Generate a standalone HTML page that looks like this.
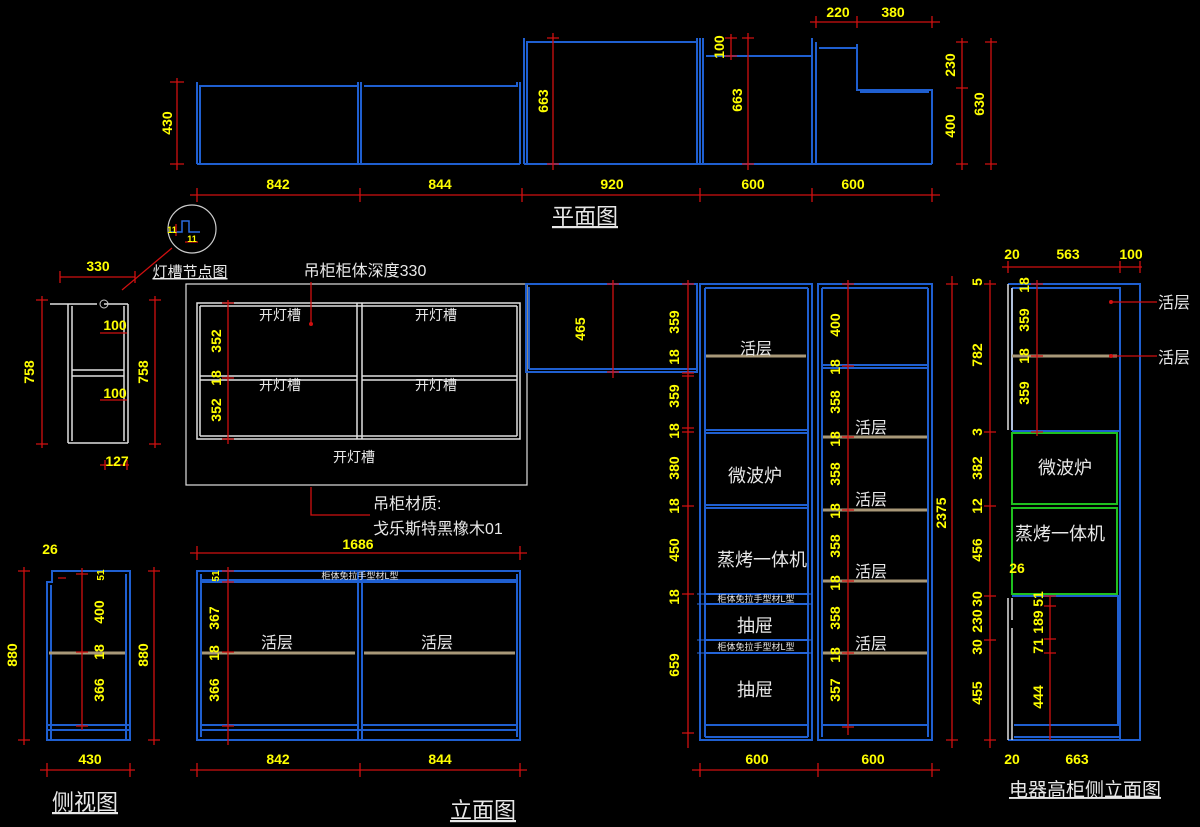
<!DOCTYPE html>
<html><head><meta charset="utf-8"><style>
html,body{margin:0;padding:0;background:#000;width:1200px;height:827px;overflow:hidden}
svg{display:block}
.b{stroke:#1f5fd0;stroke-width:2;fill:none}
.bt{stroke:#2a6ae0;stroke-width:1;fill:none}
.w{stroke:#e0e0e0;stroke-width:1.5;fill:none}
.g{stroke:#1fc01f;stroke-width:2;fill:none}
.r{stroke:#d01010;stroke-width:1.3;fill:none}
.s{stroke:#a89878;stroke-width:3;fill:none}
.d{fill:#ffff00;font-family:"Liberation Sans Narrow","Liberation Sans",sans-serif;font-weight:bold;font-size:14px;text-anchor:middle}
.t{fill:#e8e8e8;font-family:"Liberation Sans","Noto Sans CJK SC",sans-serif;font-size:16px;text-anchor:middle}
.tt{fill:#e8e8e8;font-family:"Liberation Sans","Noto Sans CJK SC",sans-serif;font-size:22px;text-anchor:middle;text-decoration:underline}
.sm{fill:#e8e8e8;font-family:"Liberation Sans","Noto Sans CJK SC",sans-serif;font-size:9px;text-anchor:middle}
</style></head><body>
<svg width="1200" height="827" viewBox="0 0 1200 827" xmlns="http://www.w3.org/2000/svg">
<!-- ===== PLAN VIEW ===== -->
<g class="b">
<path d="M197 164V82M200 164V86H358V82M361 164V82M358 164V82M364 86H517V82M520 164V82"/>
<path d="M197 164H520"/>
<path d="M524 164V38M527 164V42H697M697 38V164M700 164V38"/>
<path d="M524 164H700"/>
<path d="M703 164V38M706 56H812M812 38V164M816 164V42M819 48H857M857 44V90H932V164M860 92H929"/>
<path d="M700 164H932"/>
</g>
<g class="r">
<path d="M190 195H940M197 188V202M360 188V202M522 188V202M700 188V202M812 188V202M932 188V202"/>
<path d="M177 78V170M170 82H184M170 164H184"/>
<path d="M553 33V170M547 38H559M547 164H559"/>
<path d="M731 34V60M725 38H737M725 56H737"/>
<path d="M748 33V170M742 38H754M742 164H754"/>
<path d="M810 22H940M816 16V28M857 16V28M932 16V28"/>
<path d="M962 38V170M956 42H968M956 88H968M956 164H968"/>
<path d="M991 38V170M985 42H997M985 164H997"/>
</g>
<text class="d" x="278" y="189">842</text><text class="d" x="440" y="189">844</text>
<text class="d" x="612" y="189">920</text><text class="d" x="753" y="189">600</text><text class="d" x="853" y="189">600</text>
<text class="d" x="838" y="17">220</text><text class="d" x="893" y="17">380</text>
<text class="d" transform="rotate(-90 172 123)" x="172" y="123">430</text>
<text class="d" transform="rotate(-90 548 101)" x="548" y="101">663</text>
<text class="d" transform="rotate(-90 724 47)" x="724" y="47">100</text>
<text class="d" transform="rotate(-90 742 100)" x="742" y="100">663</text>
<text class="d" transform="rotate(-90 955 65)" x="955" y="65">230</text>
<text class="d" transform="rotate(-90 955 126)" x="955" y="126">400</text>
<text class="d" transform="rotate(-90 984 104)" x="984" y="104">630</text>
<text class="tt" x="585" y="224">平面图</text>
<!-- detail circle -->
<circle cx="192" cy="229" r="24" stroke="#ccc" stroke-width="1.2" fill="none"/>
<path d="M170 232H182V221H189V232H200" stroke="#2a6ae0" stroke-width="1.5" fill="none"/>
<path class="r" d="M176 224V236M185 242H198M122 290L172 248"/>
<text class="d" style="font-size:9px" x="172" y="233">11</text><text class="d" style="font-size:9px" x="192" y="242">11</text>
<text class="t" x="190" y="277" style="font-size:15px;text-decoration:underline">灯槽节点图</text>
<!-- ===== SIDE VIEW (wall) ===== -->
<g class="w">
<path d="M50 304H97M104 304H128M68 304V443M72 306V441M124 306V441M128 304V443M68 443H128M72 370H124M72 376H124"/>
</g>
<circle cx="104" cy="304" r="4" stroke="#ccc" fill="none"/>
<g class="r">
<path d="M60 277H135M60 271V283M135 271V283"/>
<path d="M42 296V448M36 300H48M36 444H48"/>
<path d="M155 296V448M149 300H161M149 444H161"/>
<path d="M100 333H127M100 400H127M100 465H129M105 460V470M127 460V470"/>
</g>
<text class="d" x="98" y="271">330</text>
<text class="d" x="115" y="330">100</text><text class="d" x="115" y="398">100</text><text class="d" x="117" y="466">127</text>
<text class="d" transform="rotate(-90 34 372)" x="34" y="372">758</text>
<text class="d" transform="rotate(-90 148 372)" x="148" y="372">758</text>
<!-- ===== WALL CABINET ELEVATION ===== -->
<rect x="186" y="284" width="341" height="201" stroke="#e0e0e0" stroke-width="1.2" fill="none"/>
<g class="w">
<path d="M197 303H520V439H197Z M200 306V436M517 306V436M200 306H517M200 436H517 M357 303V439M362 303V439M200 376H357M200 380H357M362 376H517M362 380H517"/>
</g>
<path class="r" d="M228 300V444M222 303H234M222 378H234M222 439H234M311 282V325M311 487V515H370"/>
<circle cx="311" cy="324" r="2" fill="#d01010"/>
<text class="d" transform="rotate(-90 221 341)" x="221" y="341">352</text>
<text class="d" transform="rotate(-90 221 378)" x="221" y="378">18</text>
<text class="d" transform="rotate(-90 221 410)" x="221" y="410">352</text>
<text class="t" style="font-size:14px" x="280" y="320">开灯槽</text><text class="t" style="font-size:14px" x="436" y="320">开灯槽</text>
<text class="t" style="font-size:14px" x="280" y="390">开灯槽</text><text class="t" style="font-size:14px" x="436" y="390">开灯槽</text>
<text class="t" style="font-size:14px" x="354" y="462">开灯槽</text>
<text class="t" x="365" y="276">吊柜柜体深度330</text>
<text class="t" style="text-anchor:start" x="373" y="509">吊柜材质:</text>
<text class="t" style="text-anchor:start" x="373" y="534">戈乐斯特黑橡木01</text>
<!-- wall box right -->
<g class="b"><path d="M526 284H697V372H526Z M529 287V369M529 369H697"/></g>
<path class="r" d="M613 280V378M607 284H619M607 372H619"/>
<text class="d" transform="rotate(-90 585 329)" x="585" y="329">465</text>
<!-- ===== TALL CABINETS ===== -->
<g class="b">
<path d="M700 284H812V740H700Z M705 288V737M808 288V737M705 288H808"/>
<path d="M705 430H808M705 433H808M705 505H808M705 508H808M705 594H808M705 604H808M705 640H808M705 653H808M705 725H808M705 737H808"/>
<path d="M818 284H932V740H818Z M822 288V737M928 288V737M822 288H928"/>
<path d="M822 365H928M822 368H928M822 725H928"/>
</g>
<path class="bt" d="M697 594H812M697 604H812M697 640H812M697 653H812"/>
<g class="s"><path d="M706 356H806M823 437H927M823 510H927M823 581H927M823 653H927"/></g>
<g class="r">
<path d="M688 280V748M682 284H694M682 373H694M682 376H694M682 428H694M682 432H694M682 506H694M682 594H694M682 733H694"/>
<path d="M848 280V735M842 284H854M842 366H854M842 437H854M842 510H854M842 581H854M842 653H854M842 727H854"/>
<path d="M692 770H940M700 763V777M818 763V777M932 763V777"/>
<path d="M952 276V748M946 284H958M946 740H958"/>
</g>
<text class="d" transform="rotate(-90 679 322)" x="679" y="322">359</text>
<text class="d" transform="rotate(-90 679 357)" x="679" y="357">18</text>
<text class="d" transform="rotate(-90 679 396)" x="679" y="396">359</text>
<text class="d" transform="rotate(-90 679 431)" x="679" y="431">18</text>
<text class="d" transform="rotate(-90 679 468)" x="679" y="468">380</text>
<text class="d" transform="rotate(-90 679 506)" x="679" y="506">18</text>
<text class="d" transform="rotate(-90 679 550)" x="679" y="550">450</text>
<text class="d" transform="rotate(-90 679 597)" x="679" y="597">18</text>
<text class="d" transform="rotate(-90 679 665)" x="679" y="665">659</text>
<text class="d" transform="rotate(-90 840 325)" x="840" y="325">400</text>
<text class="d" transform="rotate(-90 840 367)" x="840" y="367">18</text>
<text class="d" transform="rotate(-90 840 402)" x="840" y="402">358</text>
<text class="d" transform="rotate(-90 840 439)" x="840" y="439">18</text>
<text class="d" transform="rotate(-90 840 474)" x="840" y="474">358</text>
<text class="d" transform="rotate(-90 840 511)" x="840" y="511">18</text>
<text class="d" transform="rotate(-90 840 546)" x="840" y="546">358</text>
<text class="d" transform="rotate(-90 840 583)" x="840" y="583">18</text>
<text class="d" transform="rotate(-90 840 618)" x="840" y="618">358</text>
<text class="d" transform="rotate(-90 840 655)" x="840" y="655">18</text>
<text class="d" transform="rotate(-90 840 690)" x="840" y="690">357</text>
<text class="d" transform="rotate(-90 946 513)" x="946" y="513">2375</text>
<text class="d" x="757" y="764">600</text><text class="d" x="873" y="764">600</text>
<text class="t" x="756" y="354">活层</text>
<text class="t" style="font-size:18px" x="755" y="482">微波炉</text>
<text class="t" style="font-size:18px" x="762" y="566">蒸烤一体机</text>
<text class="sm" x="756" y="602">柜体免拉手型材L型</text>
<text class="t" style="font-size:18px" x="755" y="632">抽屉</text>
<text class="sm" x="756" y="650">柜体免拉手型材L型</text>
<text class="t" style="font-size:18px" x="755" y="696">抽屉</text>
<text class="t" x="871" y="433">活层</text><text class="t" x="871" y="505">活层</text>
<text class="t" x="871" y="577">活层</text><text class="t" x="871" y="649">活层</text>
<!-- ===== APPLIANCE TALL SIDE ===== -->
<g class="b">
<path d="M1008 284H1140V740H1008 M1012 288H1120V431H1012 M1012 431V288 M1120 288V740"/>
<path d="M1012 596H1120M1014 725H1120M1014 737H1120M1118 596V725"/>
</g>
<path class="w" d="M1008 284V430M1012 288V430M1008 598V740M1012 598V620M1012 628V740"/>
<path class="s" d="M1012 356H1117"/>
<rect x="1012" y="433" width="105" height="71" class="g"/>
<rect x="1012" y="508" width="105" height="86" class="g"/>
<g class="r">
<path d="M1002 267H1142M1008 261V273M1120 261V273M1140 261V273"/>
<path d="M990 280V748M984 284H996M984 432H996M984 506H996M984 596H996M984 640H996M984 740H996"/>
<path d="M1037 280V436M1031 284H1043M1031 356H1043M1031 432H1043"/>
<path d="M1050 596V740M1044 596H1056M1044 606H1056M1044 639H1056M1044 653H1056"/>
<path d="M1110 302H1157M1110 356H1157"/>
</g>
<circle cx="1111" cy="302" r="2" fill="#d01010"/><circle cx="1111" cy="356" r="2" fill="#d01010"/>
<text class="t" style="text-anchor:start" x="1158" y="308">活层</text>
<text class="t" style="text-anchor:start" x="1158" y="363">活层</text>
<text class="t" style="font-size:18px" x="1065" y="474">微波炉</text>
<text class="t" style="font-size:18px" x="1060" y="540">蒸烤一体机</text>
<text class="d" x="1012" y="259">20</text><text class="d" x="1068" y="259">563</text><text class="d" x="1131" y="259">100</text>
<text class="d" x="1012" y="764">20</text><text class="d" x="1077" y="764">663</text>
<text class="d" transform="rotate(-90 982 282)" x="982" y="282">5</text>
<text class="d" transform="rotate(-90 982 355)" x="982" y="355">782</text>
<text class="d" transform="rotate(-90 982 432)" x="982" y="432">3</text>
<text class="d" transform="rotate(-90 982 468)" x="982" y="468">382</text>
<text class="d" transform="rotate(-90 982 506)" x="982" y="506">12</text>
<text class="d" transform="rotate(-90 982 550)" x="982" y="550">456</text>
<text class="d" transform="rotate(-90 982 599)" x="982" y="599">30</text>
<text class="d" transform="rotate(-90 982 621)" x="982" y="621">230</text>
<text class="d" transform="rotate(-90 982 647)" x="982" y="647">30</text>
<text class="d" transform="rotate(-90 982 693)" x="982" y="693">455</text>
<text class="d" transform="rotate(-90 1029 285)" x="1029" y="285">18</text>
<text class="d" transform="rotate(-90 1029 320)" x="1029" y="320">359</text>
<text class="d" transform="rotate(-90 1029 356)" x="1029" y="356">18</text>
<text class="d" transform="rotate(-90 1029 393)" x="1029" y="393">359</text>
<text class="d" transform="rotate(-90 1043 599)" x="1043" y="599">51</text>
<text class="d" transform="rotate(-90 1043 622)" x="1043" y="622">189</text>
<text class="d" transform="rotate(-90 1043 646)" x="1043" y="646">71</text>
<text class="d" transform="rotate(-90 1043 697)" x="1043" y="697">444</text>
<text class="d" x="1017" y="573">26</text>
<text class="tt" style="font-size:19px" x="1085" y="796">电器高柜侧立面图</text>
<!-- ===== BASE SIDE VIEW ===== -->
<g class="b">
<path d="M47 740V582H52V571H130V740Z M51 740V585M126 574V740M47 725H130M47 730H130"/>
</g>
<path class="s" d="M49 653H125"/>
<g class="r">
<path d="M24 567V745M18 571H30M18 740H30"/>
<path d="M154 567V745M148 571H160M148 740H160"/>
<path d="M82 568V730M76 574H88M76 652H88M76 726H88M58 578H66"/>
<path d="M40 770H135M47 763V777M130 763V777"/>
</g>
<text class="d" x="50" y="554">26</text>
<text class="d" transform="rotate(-90 17 655)" x="17" y="655">880</text>
<text class="d" transform="rotate(-90 148 655)" x="148" y="655">880</text>
<text class="d" transform="rotate(-90 104 575)" x="104" y="575" style="font-size:10px">51</text>
<text class="d" transform="rotate(-90 104 612)" x="104" y="612">400</text>
<text class="d" transform="rotate(-90 104 652)" x="104" y="652">18</text>
<text class="d" transform="rotate(-90 104 690)" x="104" y="690">366</text>
<text class="d" x="90" y="764">430</text>
<text class="tt" x="85" y="810">侧视图</text>
<!-- ===== BASE ELEVATION ===== -->
<g class="b">
<path d="M197 571H520V740H197Z M201 574V737M517 574V737M358 571V740M362 571V740"/>
<path d="M201 580H517M201 582H517M201 725H358M362 725H517M201 730H517"/>
</g>
<path class="s" d="M202 653H355M364 653H515"/>
<g class="r">
<path d="M190 553H527M197 546V560M520 546V560"/>
<path d="M228 567V745M222 571H234M222 582H234M222 652H234M222 726H234"/>
<path d="M190 770H527M197 763V777M360 763V777M520 763V777"/>
</g>
<text class="d" x="358" y="549">1686</text>
<text class="sm" x="360" y="579">柜体免拉手型材L型</text>
<text class="d" transform="rotate(-90 219 576)" x="219" y="576" style="font-size:10px">51</text>
<text class="d" transform="rotate(-90 219 618)" x="219" y="618">367</text>
<text class="d" transform="rotate(-90 219 653)" x="219" y="653">18</text>
<text class="d" transform="rotate(-90 219 690)" x="219" y="690">366</text>
<text class="t" x="277" y="648">活层</text><text class="t" x="437" y="648">活层</text>
<text class="d" x="278" y="764">842</text><text class="d" x="440" y="764">844</text>
<text class="tt" x="483" y="818">立面图</text>
</svg>
</body></html>
